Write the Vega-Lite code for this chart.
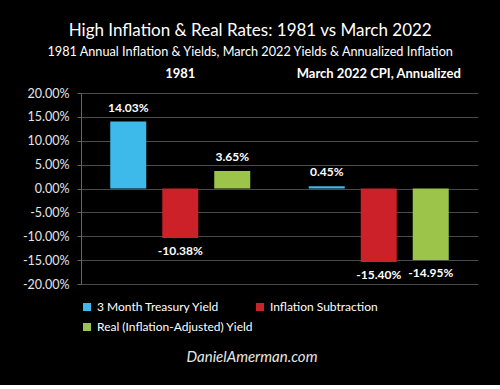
{
  "$schema": "https://vega.github.io/schema/vega-lite/v6.json",
  "background": "black",
  "padding": {"left": 22, "top": 22, "right": 24, "bottom": 18},
  "autosize": {"type": "pad"},
  "config": {
    "view": {"stroke": null},
    "font": "Lato",
    "concat": {"spacing": 14},
    "locale": {"number": {"decimal": ".", "thousands": ",", "grouping": [3], "currency": ["$", ""], "minus": "-"}}
  },
  "title": {
    "text": "High Inflation & Real Rates: 1981 vs March 2022",
    "subtitle": "1981 Annual Inflation & Yields, March 2022 Yields & Annualized Inflation",
    "color": "white",
    "subtitleColor": "white",
    "fontSize": 17,
    "subtitleFontSize": 12.7,
    "font": "Lato",
    "subtitleFont": "Lato",
    "fontWeight": "normal",
    "anchor": "middle",
    "dy": 4,
    "subtitlePadding": 6,
    "offset": 11
  },
  "resolve": {"legend": {"color": "independent"}},
  "vconcat": [
    {
      "width": 397,
      "height": 191,
      "data": {
        "values": [
          {"period": "1981", "series": "3 Month Treasury Yield", "value": 0.1403},
          {"period": "1981", "series": "Inflation Subtraction", "value": -0.1038},
          {"period": "1981", "series": "Real (Inflation-Adjusted) Yield", "value": 0.0365},
          {"period": "March 2022 CPI, Annualized", "series": "3 Month Treasury Yield", "value": 0.0045},
          {"period": "March 2022 CPI, Annualized", "series": "Inflation Subtraction", "value": -0.154},
          {"period": "March 2022 CPI, Annualized", "series": "Real (Inflation-Adjusted) Yield", "value": -0.1495}
        ]
      },
      "encoding": {
        "x": {
          "field": "period",
          "type": "nominal",
          "sort": ["1981", "March 2022 CPI, Annualized"],
          "scale": {"paddingInner": 0, "paddingOuter": 0},
          "axis": {
            "orient": "top",
            "title": null,
            "labelAngle": 0,
            "ticks": false,
            "domain": false,
            "labelFontWeight": "bold",
            "labelFontSize": 13,
            "labelColor": "white",
            "labelPadding": 13
          }
        },
        "xOffset": {
          "field": "series",
          "type": "nominal",
          "sort": ["3 Month Treasury Yield", "Inflation Subtraction", "Real (Inflation-Adjusted) Yield"],
          "scale": {"paddingInner": 0.3077, "paddingOuter": 0.5625}
        },
        "y": {
          "field": "value",
          "type": "quantitative",
          "scale": {"domain": [-0.2, 0.2], "nice": false, "zero": true},
          "axis": {
            "title": null,
            "values": [-0.2, -0.15, -0.1, -0.05, 0, 0.05, 0.1, 0.15, 0.2],
            "format": ".2%",
            "labelColor": "#e6e6e6",
            "labelFontSize": 12.5,
            "tickSize": 4,
            "tickColor": "#666666",
            "domainColor": "#666666",
            "gridColor": "#4a4a4a",
            "labelPadding": 8
          }
        }
      },
      "layer": [
        {
          "mark": {"type": "bar"},
          "encoding": {
            "color": {
              "field": "series",
              "type": "nominal",
              "sort": ["3 Month Treasury Yield", "Inflation Subtraction", "Real (Inflation-Adjusted) Yield"],
              "scale": {"range": ["#3db9ea", "#cc2128", "#9cc44b"]},
              "legend": {
                "orient": "bottom",
                "direction": "horizontal",
                "columns": 2,
                "title": null,
                "symbolType": "square",
                "symbolSize": 64,
                "symbolStrokeWidth": 0,
                "labelFontSize": 12,
                "labelColor": "white",
                "labelLimit": 300,
                "columnPadding": -3,
                "rowPadding": 8,
                "offset": 17
              }
            }
          }
        },
        {
          "transform": [{"filter": "datum.value >= 0"}],
          "mark": {"type": "text", "baseline": "bottom", "dy": -7, "color": "white", "fontWeight": "bold", "fontSize": 12},
          "encoding": {"text": {"field": "value", "type": "quantitative", "format": ".2%"}}
        },
        {
          "transform": [{"filter": "datum.value < 0"}],
          "mark": {"type": "text", "baseline": "top", "dy": 8, "color": "white", "fontWeight": "bold", "fontSize": 12},
          "encoding": {"text": {"field": "value", "type": "quantitative", "format": ".2%"}}
        }
      ]
    },
    {
      "width": 342,
      "height": 20,
      "data": {"values": [{"t": "DanielAmerman.com"}]},
      "mark": {"type": "text", "fontStyle": "italic", "fontSize": 15, "color": "#e6e6e6"},
      "encoding": {"text": {"field": "t", "type": "nominal"}}
    }
  ]
}
